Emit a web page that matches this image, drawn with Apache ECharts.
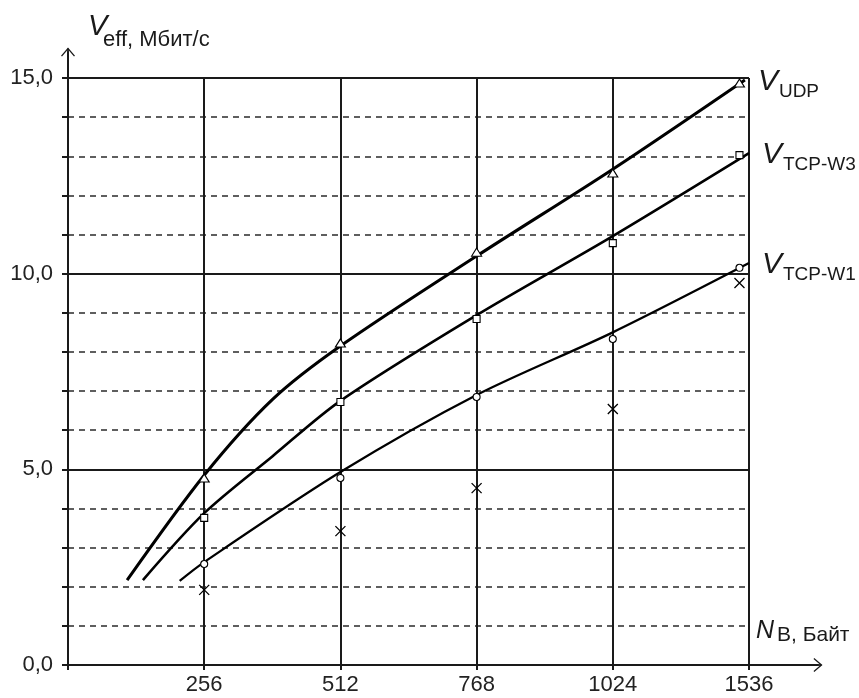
<!DOCTYPE html>
<html><head><meta charset="utf-8">
<script src="https://cdn.jsdelivr.net/npm/echarts@6/dist/echarts.min.js"></script>
<style>html,body{margin:0;padding:0;background:#fff}#c{width:859px;height:698px}</style>
</head><body><div id="c"></div>
<script>
// x positions are category slots: 1 -> 256, 2 -> 512, 3 -> 768, 4 -> 1024, 5 -> 1536
const xLabels = ['256', '512', '768', '1024', '1536'];
const yLabelStep = 5;
const markX = [1, 2, 3, 4, 4.93];
const udpMarks = [4.78, 8.23, 10.55, 12.57, 14.87];
const w3Marks = [3.76, 6.72, 8.84, 10.78, 13.03];
const w1Marks = [2.58, 4.78, 6.85, 8.33, 10.15];
const crossMarks = [1.92, 3.42, 4.52, 6.54, 9.76];
const udpCurveX = [0.434, 1, 1.5, 2, 3, 4, 4.97];
const udpCurveY = [2.17, 4.85, 6.78, 8.15, 10.45, 12.67, 14.95];
const w3CurveX = [0.55, 1, 1.5, 2, 3, 4, 5];
const w3CurveY = [2.17, 3.88, 5.33, 6.75, 8.94, 10.96, 13.08];
const w1CurveX = [0.82, 1, 2, 3, 4, 5];
const w1CurveY = [2.15, 2.63, 4.93, 6.9, 8.5, 10.27];

const FF = '"Liberation Sans", Arial, sans-serif';
const INK = '#1a1a1a';
const zip = (xs, ys) => xs.map((x, i) => [x, ys[i]]);
const arrowPath = 'path://M7,0L14,8.2L13,9L7,2L1,9L0,8.2Z M6.2,0.5L7.8,0.5L7.8,9L6.2,9Z';

function endLabel(sub) {
  return {
    show: true,
    distance: 13,
    offset: [0, 4],
    formatter: '{v|V}{s|' + sub + '}',
    rich: {
      v: { fontSize: 30, fontStyle: 'italic', fontFamily: FF, color: INK, verticalAlign: 'top' },
      s: { fontSize: 19, fontFamily: FF, color: INK, verticalAlign: 'top', padding: [16, 0, 0, 1] }
    }
  };
}
function curve(xs, ys, w, sub) {
  return {
    type: 'line', xAxisIndex: 0, yAxisIndex: 0, data: zip(xs, ys), smooth: 0.3,
    showSymbol: false, lineStyle: { color: '#000', width: w }, z: 3,
    endLabel: endLabel(sub), labelLayout: { hideOverlap: false }
  };
}
function marks(ys, symbol, size, bw) {
  return {
    type: 'scatter', xAxisIndex: 0, yAxisIndex: 0, data: zip(markX, ys), symbol: symbol,
    symbolSize: size, z: 4,
    itemStyle: { color: symbol.startsWith('path') ? 'rgba(0,0,0,0)' : '#fff', borderColor: '#000', borderWidth: bw, opacity: 1 }
  };
}

const chart = echarts.init(document.getElementById('c'), null, { renderer: 'canvas' });
chart.setOption({
  animation: false,
  backgroundColor: '#fff',
  grid: [
    { left: 68, top: 78, width: 681, height: 587 },
    { left: 68, top: 52, width: 750, height: 613 }
  ],
  xAxis: [
    {
      gridIndex: 0, type: 'value', min: 0, max: 5, interval: 1,
      axisLine: { show: false },
      axisTick: { show: true, length: 5, lineStyle: { color: INK, width: 2 } },
      axisLabel: { formatter: v => (v >= 1 ? xLabels[v - 1] : ''), fontSize: 22, fontFamily: FF, color: '#222', margin: 9 },
      splitLine: { show: true, lineStyle: { color: INK, width: 2 } }
    },
    {
      gridIndex: 1, type: 'value', min: 0, max: 1,
      axisLine: { show: true, symbol: ['none', arrowPath], symbolSize: [16, 9], lineStyle: { color: INK, width: 2 } },
      axisTick: { show: false }, axisLabel: { show: false }, splitLine: { show: false }
    }
  ],
  yAxis: [
    {
      gridIndex: 0, type: 'value', position: 'left', min: 0, max: 15, interval: 1,
      axisLine: { show: false },
      axisTick: { show: true, length: 6, lineStyle: { color: INK, width: 2 } },
      axisLabel: { show: false },
      splitLine: { show: true, lineStyle: { color: '#2a2a2a', width: 1.6, type: [6, 5] } }
    },
    {
      gridIndex: 0, type: 'value', position: 'left', min: 0, max: 15, interval: yLabelStep,
      axisLine: { show: false }, axisTick: { show: false },
      axisLabel: { formatter: v => v.toFixed(1).replace('.', ','), fontSize: 22, fontFamily: FF, color: '#222', margin: 15 },
      splitLine: { show: true, lineStyle: { color: INK, width: 2 } }
    },
    {
      gridIndex: 1, type: 'value', position: 'left', min: 0, max: 1,
      axisLine: { show: true, symbol: ['none', arrowPath], symbolSize: [15, 9], lineStyle: { color: INK, width: 2 } },
      axisTick: { show: false }, axisLabel: { show: false }, splitLine: { show: false }
    }
  ],
  graphic: [
    { type: 'text', x: 88, y: 12, style: { text: 'V', font: 'italic 29px ' + FF, fill: INK, verticalAlign: 'top' } },
    { type: 'text', x: 103, y: 29, style: { text: 'eff, Мбит/с', font: '22px ' + FF, fill: INK, verticalAlign: 'top' } },
    { type: 'text', x: 756, y: 619, style: { text: 'N', font: 'italic 25px ' + FF, fill: INK, verticalAlign: 'top' } },
    { type: 'text', x: 777, y: 625, style: { text: 'B, Байт', font: '21px ' + FF, fill: INK, verticalAlign: 'top' } }
  ],
  series: [
    curve(udpCurveX, udpCurveY, 3, 'UDP'),
    curve(w3CurveX, w3CurveY, 2.6, 'TCP-W3'),
    curve(w1CurveX, w1CurveY, 2.3, 'TCP-W1'),
    marks(udpMarks, 'triangle', [10, 8], 1.1),
    marks(w3Marks, 'rect', 7, 1.1),
    marks(w1Marks, 'circle', 7, 1.1),
    marks(crossMarks, 'path://M0,0L10,10M10,0L0,10', 10, 1.3)
  ]
});
</script>
</body></html>
